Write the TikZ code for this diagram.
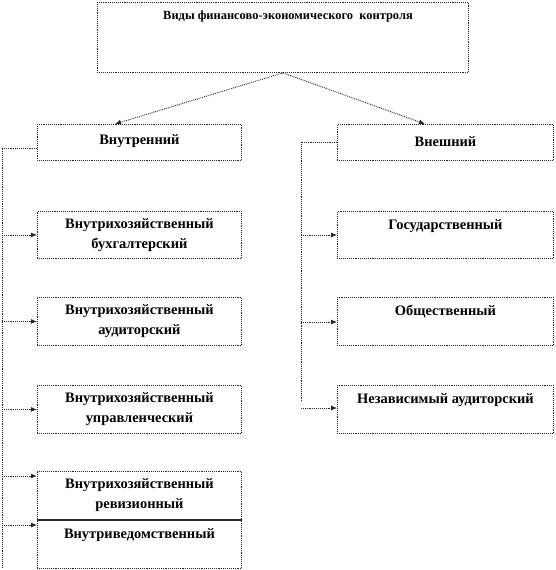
\documentclass[tikz,border=0pt]{standalone}
\usepackage{fontspec}
\setmainfont{Liberation Serif}
\usetikzlibrary{arrows.meta}
\begin{document}
\begin{tikzpicture}[x=1bp,y=-1bp,
  box/.style={draw=black!85,densely dotted,line width=0.9bp,inner sep=0,anchor=north west},
  txt/.style={font=\bfseries\fontsize{14.5}{20}\selectfont,align=center,inner sep=0},
  ttl/.style={font=\bfseries\fontsize{12.5}{14}\selectfont,inner sep=0},
  conn/.style={draw=black!85,densely dotted,line width=0.9bp},
  arr/.style={conn,-{Latex[length=6bp,width=5bp]}}]
\useasboundingbox (0,0) rectangle (556,570);
% boxes
\node[box,minimum width=371bp,minimum height=70bp] (top) at (97,2) {};
\node[ttl] (ttlt) at (288,17) {Виды финансово-экономического\ \ контроля};
\node[box,minimum width=204bp,minimum height=36bp] (in) at (37,124) {};
\node[txt] at ([yshift=1bp]in.center) {Внутренний};
\node[box,minimum width=216bp,minimum height=36bp] (ex) at (337,124) {};
\node[txt] at ([yshift=1bp]ex.center) {Внешний};
\node[box,minimum width=204bp,minimum height=47bp] (b2) at (37,211) {};
\node[txt] at (b2.center) {Внутрихозяйственный\\бухгалтерский};
\node[box,minimum width=204bp,minimum height=48bp] (b3) at (37,297) {};
\node[txt] at (b3.center) {Внутрихозяйственный\\аудиторский};
\node[box,minimum width=204bp,minimum height=48bp] (b4) at (37,385) {};
\node[txt] at (b4.center) {Внутрихозяйственный\\управленческий};
\node[box,minimum width=204bp,minimum height=48bp] (b5) at (37,471) {};
\node[txt] at (b5.center) {Внутрихозяйственный\\ревизионный};
\node[box,minimum width=204bp,minimum height=49bp] (b6) at (37,519) {};
\node[txt] at ([yshift=-16bp]b6.north) {Внутриведомственный};
\draw[black!85,line width=1.6bp] (b5.south west) -- (b5.south east);
\node[box,minimum width=216bp,minimum height=47bp] (r1) at (337,211) {};
\node[txt] at ([yshift=-15bp]r1.north) {Государственный};
\node[box,minimum width=216bp,minimum height=48bp] (r2) at (337,297) {};
\node[txt] at ([yshift=-15bp]r2.north) {Общественный};
\node[box,minimum width=216bp,minimum height=48bp] (r3) at (337,385) {};
\node[txt] at ([yshift=-15bp]r3.north) {Независимый аудиторский};
% top arrows
\draw[arr] (top.south) -- ([xshift=78bp]in.north west);
\draw[arr] (top.south) -- ([xshift=88bp]ex.north west);
% left trunk
\coordinate (lb) at (2,568);
\draw[conn] ([yshift=-6bp]in.west) -| (lb);
\draw[arr] (b2.west -| lb) -- (b2.west);
\draw[arr] (b3.west -| lb) -- (b3.west);
\draw[arr] (b4.west -| lb) -- (b4.west);
\draw[arr] ([yshift=-5bp]b5.north west -| lb) -- ([yshift=-5bp]b5.north west);
\draw[arr] ([yshift=-6bp]b6.north west -| lb) -- ([yshift=-6bp]b6.north west);
% right trunk
\coordinate (rb) at (301,402);
\draw[conn] (ex.west) -| (rb);
\draw[arr] ([yshift=-24bp]r1.north west -| rb) -- ([yshift=-24bp]r1.north west);
\draw[arr] ([yshift=-25bp]r2.north west -| rb) -- ([yshift=-25bp]r2.north west);
\draw[arr] ([yshift=-23bp]r3.north west -| rb) -- ([yshift=-23bp]r3.north west);
\end{tikzpicture}
\end{document}
